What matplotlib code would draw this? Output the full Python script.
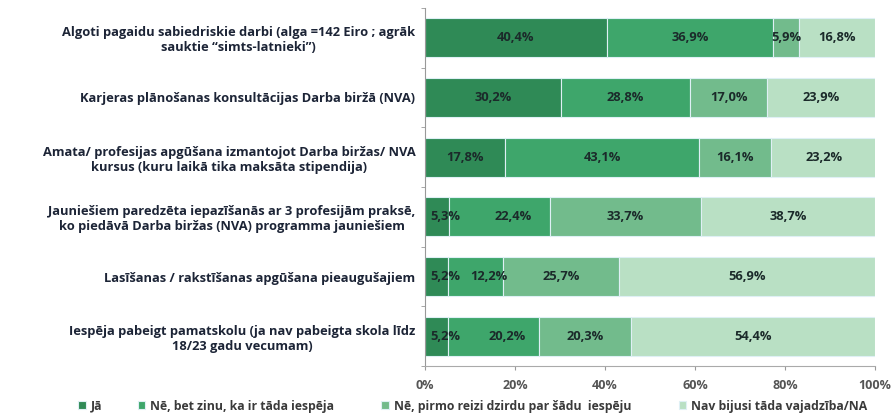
import numpy as np
import matplotlib.pyplot as plt

plt.rcParams['font.family'] = ['Open Sans', 'DejaVu Sans']

categories = [
    "Algoti pagaidu sabiedriskie darbi (alga =142 Eiro ; agrāk\nsauktie \u201csimts-latnieki\u201d)",
    "Karjeras plānošanas konsultācijas Darba biržā (NVA)",
    "Amata/ profesijas apgūšana izmantojot Darba biržas/ NVA\nkursus (kuru laikā tika maksāta stipendija)",
    "Jauniešiem paredzēta iepazīšanās ar 3 profesijām praksē,\nko piedāvā Darba biržas (NVA) programma jauniešiem",
    "Lasīšanas / rakstīšanas apgūšana pieaugušajiem",
    "Iespēja pabeigt pamatskolu (ja nav pabeigta skola līdz\n18/23 gadu vecumam)",
]
series_names = [
    "Jā",
    "Nē, bet zinu, ka ir tāda iespēja",
    "Nē, pirmo reizi dzirdu par šādu  iespēju",
    "Nav bijusi tāda vajadzība/NA",
]
ja = [40.4, 30.2, 17.8, 5.3, 5.2, 5.2]
ne_zinu = [36.9, 28.8, 43.1, 22.4, 12.2, 20.2]
ne_pirmo = [5.9, 17.0, 16.1, 33.7, 25.7, 20.3]
nav = [16.8, 23.9, 23.2, 38.7, 56.9, 54.4]
xticks = [0, 20, 40, 60, 80, 100]

colors = ["#2f8a56", "#3ea66b", "#72bb8c", "#b9e0c4"]

fig = plt.figure(figsize=(8.91, 4.16), dpi=100)
ax = fig.add_axes([0.477, 0.120, 0.505, 0.861])

y = np.arange(len(categories))
left = np.zeros(len(categories))
prev = np.full(len(categories), 100.0)
handles = []
for vals, c, name in zip([ja, ne_zinu, ne_pirmo, nav], colors, series_names):
    vals = np.array(vals)
    b = ax.barh(y, vals, left=left, height=0.65, color=c, edgecolor="#dff0f5",
                linewidth=0.8, label=name)
    handles.append(b)
    for yi, l, v, p in zip(y, left, vals, prev):
        txt = f"{v:.1f}%".replace(".", ",")
        if l == 0 and v < 8:
            # keep small labels inside the plot area
            ax.text(l + 1.2, yi, txt, ha="left", va="center",
                    fontsize=9.3, fontweight="bold", color="#1b2a2a")
        else:
            shift = 3 if (p < 8 and l < 10) else 0
            ax.text(l + v / 2 + shift, yi, txt, ha="center", va="center",
                    fontsize=9.3, fontweight="bold", color="#1b2a2a")
    left += vals
    prev = vals

ax.set_ylim(len(categories) - 0.5, -0.5)
ax.set_xlim(0, 100)
ax.set_yticks(y)
ax.set_yticklabels(categories, fontsize=9.3, fontweight="bold", color="#1c2436",
                   ha="right", multialignment="center")
ax.tick_params(axis="y", length=0, pad=7)
ax.set_yticks(np.arange(len(categories) + 1) - 0.5, minor=True)
ax.tick_params(axis="y", which="minor", length=3, color="#999999", direction="out")
ax.set_xticks(xticks)
ax.set_xticklabels([f"{t}%" for t in xticks], fontsize=9, fontweight="bold", color="#555555")
ax.tick_params(axis="x", length=3, color="#999999", pad=6)

for s in ["top", "right"]:
    ax.spines[s].set_visible(False)
ax.spines["left"].set_color("#999999")
ax.spines["bottom"].set_color("#aaaaaa")
ax.spines["bottom"].set_linestyle((0, (1, 1)))

# legend entries placed one by one, as in the original
leg_x = [0.088, 0.155, 0.428, 0.762]
for h, name, lx in zip(handles, series_names, leg_x):
    leg = fig.legend(handles=[h], labels=[name], loc="center left",
                     bbox_to_anchor=(lx, 0.024), frameon=False, borderpad=0,
                     borderaxespad=0, handlelength=0.6, handleheight=0.6,
                     handletextpad=0.4, prop={"weight": "bold", "size": 8.8})
    for t in leg.get_texts():
        t.set_color("#3a3a3a")

fig.savefig("out.png", dpi=100)
